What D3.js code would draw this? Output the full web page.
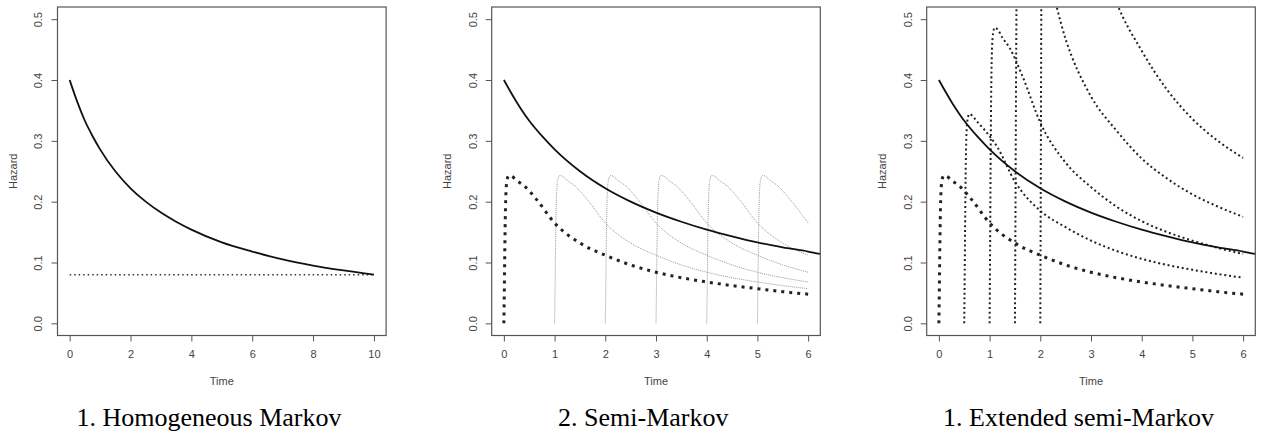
<!DOCTYPE html>
<html>
<head>
<meta charset="utf-8">
<script src="https://cdn.jsdelivr.net/npm/d3@7"></script>
<style>
  body { margin: 0; background: #fff; }
  svg { display: block; }
  .tick text { font-family: "Liberation Sans", Arial, sans-serif; font-size: 11px; fill: #444; }
  .lab { font-family: "Liberation Sans", Arial, sans-serif; font-size: 11px; fill: #444; }
  .cap { font-family: "Liberation Serif", "Times New Roman", serif; font-size: 26px; fill: #000; }
</style>
</head>
<body>
<div id="chart"></div>
<script>
//Datos
const hazardTicks = [0, 0.1, 0.2, 0.3, 0.4, 0.5];
const timeTicks10 = [0, 2, 4, 6, 8, 10];
const timeTicks6 = [0, 1, 2, 3, 4, 5, 6];
const captions = ['1. Homogeneous Markov', '2. Semi-Markov', '1. Extended semi-Markov'];

//Panel 1: hazard decreciente y hazard constante
const markovTime = [0, 0.25, 0.5, 0.75, 1, 1.5, 2, 2.5, 3, 3.5, 4, 5, 6, 7, 8, 9, 10];
const markovHazard = [0.4, 0.364, 0.333, 0.308, 0.286, 0.25, 0.222, 0.2, 0.182, 0.167, 0.154, 0.133, 0.118, 0.105, 0.095, 0.087, 0.08];
const constTime = [0, 10];
const constHazard = [0.08, 0.08];

//Paneles 2 y 3: hazard decreciente hasta 6.24
const solidTime = [0, 0.25, 0.5, 0.75, 1, 1.5, 2, 2.5, 3, 3.5, 4, 4.5, 5, 5.5, 6, 6.24];
const solidHazard = [0.4, 0.364, 0.333, 0.308, 0.286, 0.25, 0.222, 0.2, 0.182, 0.167, 0.154, 0.143, 0.133, 0.125, 0.118, 0.114];

//Hazard de base (tiempo desde la entrada)
const baseTime = [0, 0.01, 0.02, 0.035, 0.06, 0.1, 0.15, 0.25, 0.4, 0.65, 1, 1.5, 2, 2.5, 3, 3.5, 4, 4.5, 5, 5.5, 6];
const baseHazard = [0, 0.06, 0.13, 0.2, 0.235, 0.243, 0.242, 0.235, 0.226, 0.203, 0.165, 0.132, 0.112, 0.096, 0.084, 0.075, 0.068, 0.062, 0.057, 0.052, 0.048];

//Panel 2: copias grises que empiezan en cada entrada
const semiEntries = [1, 2, 3, 4, 5];

//Panel 3: curvas punteadas de las entradas 0.5, 1, 1.5 y 2
const extTimeA = [0.5, 0.51, 0.52, 0.535, 0.56, 0.6, 0.65, 0.75, 0.9, 1.15, 1.5, 2, 2.5, 3, 3.5, 4, 4.5, 5, 5.5, 6];
const extHazA = [0, 0.085, 0.184, 0.283, 0.332, 0.344, 0.342, 0.332, 0.318, 0.29, 0.233, 0.185, 0.158, 0.136, 0.119, 0.106, 0.096, 0.088, 0.081, 0.075];
const extTimeB = [1, 1.01, 1.02, 1.035, 1.06, 1.1, 1.15, 1.25, 1.4, 1.65, 2, 2.5, 3, 3.5, 4, 4.5, 5, 5.5, 6];
const extHazB = [0, 0.12, 0.26, 0.4, 0.47, 0.486, 0.484, 0.47, 0.452, 0.406, 0.33, 0.264, 0.224, 0.192, 0.168, 0.15, 0.136, 0.124, 0.114];
const extTimeC = [1.5, 1.51, 1.52, 1.535, 1.56, 1.6, 1.65, 1.75, 1.9, 2.15, 2.5, 3, 3.5, 4, 4.5, 5, 5.5, 6];
const extHazC = [0, 0.17, 0.368, 0.566, 0.665, 0.687, 0.684, 0.665, 0.639, 0.574, 0.467, 0.373, 0.317, 0.271, 0.238, 0.212, 0.192, 0.175];
const extTimeD = [2, 2.01, 2.02, 2.035, 2.06, 2.1, 2.15, 2.25, 2.4, 2.65, 3, 3.5, 4, 4.5, 5, 5.5, 6];
const extHazD = [0, 0.24, 0.52, 0.8, 0.94, 0.972, 0.968, 0.94, 0.904, 0.812, 0.66, 0.528, 0.448, 0.384, 0.336, 0.3, 0.272];

//Estilos de linea
const STYLE_SOLID = { stroke: '#111', width: 1.8, dash: null };
const STYLE_CONST = { stroke: '#333', width: 1.5, dash: '1.5,3' };
const STYLE_HEAVY = { stroke: '#222', width: 3, dash: '3,5' };
const STYLE_GREY = { stroke: '#999', width: 1, dash: '1,1' };
const STYLE_DOT = { stroke: '#222', width: 2, dash: '2,2.8' };

const W = 1266, H = 434;
const boxTop = 7, boxBottom = 335.5, boxWidth = 328.6;

let svg = d3.select('#chart').append('svg')
    .attr('width', W)
    .attr('height', H);

function zip(xs, ys) {
    return xs.map(function(x, i) { return [x, ys[i]]; });
}

function drawPanel(idx, left, xmax, xTicks, captionX, series) {
    let x = d3.scaleLinear()
        .domain([-0.04 * xmax, 1.04 * xmax])
        .range([left, left + boxWidth]);
    let y = d3.scaleLinear()
        .domain([-0.02, 0.52])
        .range([boxBottom, boxTop]);

    let g = svg.append('g');

    //Clip al recuadro
    g.append('clipPath')
        .attr('id', 'clip' + idx)
        .append('rect')
        .attr('x', left).attr('y', boxTop)
        .attr('width', boxWidth).attr('height', boxBottom - boxTop);

    let line = d3.line()
        .x(function(d) { return x(d[0]); })
        .y(function(d) { return y(d[1]); })
        .curve(d3.curveMonotoneX);

    let plot = g.append('g').attr('clip-path', 'url(#clip' + idx + ')');

    series.forEach(function(s) {
        plot.append('path')
            .attr('d', line(s.points))
            .attr('fill', 'none')
            .attr('stroke', s.style.stroke)
            .attr('stroke-width', s.style.width)
            .attr('stroke-dasharray', s.style.dash);
    });

    //Ejes
    let xAxis = g.append('g')
        .attr('transform', 'translate(0,' + boxBottom + ')')
        .call(d3.axisBottom(x).tickValues(xTicks).tickFormat(d3.format('d')).tickSize(6).tickPadding(8.5).tickSizeOuter(0));
    xAxis.select('.domain').remove();
    xAxis.selectAll('line').attr('stroke', '#555');

    let yAxis = g.append('g')
        .attr('transform', 'translate(' + left + ',0)')
        .call(d3.axisLeft(y).tickValues(hazardTicks).tickFormat(d3.format('.1f')).tickSize(6).tickSizeOuter(0));
    yAxis.select('.domain').remove();
    yAxis.selectAll('line').attr('stroke', '#555');
    yAxis.selectAll('text')
        .attr('x', null)
        .attr('dy', '0.35em')
        .attr('text-anchor', 'middle')
        .attr('transform', 'translate(-19,0) rotate(-90)');

    //Recuadro
    g.append('rect')
        .attr('x', left).attr('y', boxTop)
        .attr('width', boxWidth).attr('height', boxBottom - boxTop)
        .attr('fill', 'none')
        .attr('stroke', '#555')
        .attr('stroke-width', 1.2);

    //Titulos de ejes
    g.append('text')
        .attr('class', 'lab')
        .attr('x', left + boxWidth / 2)
        .attr('y', boxBottom + 45.5)
        .attr('dy', '0.35em')
        .attr('text-anchor', 'middle')
        .text('Time');

    g.append('text')
        .attr('class', 'lab')
        .attr('text-anchor', 'middle')
        .attr('dy', '0.35em')
        .attr('transform', 'translate(' + (left - 44.5) + ',' + y(0.25) + ') rotate(-90)')
        .text('Hazard');

    //Pie de figura
    g.append('text')
        .attr('class', 'cap')
        .attr('x', captionX)
        .attr('y', 426)
        .attr('text-anchor', 'middle')
        .text(captions[idx]);
}

//Panel 1
drawPanel(0, 57.5, 10, timeTicks10, 209, [
    { points: zip(constTime, constHazard), style: STYLE_CONST },
    { points: zip(markovTime, markovHazard), style: STYLE_SOLID }
]);

//Panel 2
let semiSeries = semiEntries.map(function(e) {
    let pts = zip(baseTime, baseHazard)
        .filter(function(p) { return p[0] + e <= 6; })
        .map(function(p) { return [p[0] + e, p[1]]; });
    return { points: pts, style: STYLE_GREY };
});
drawPanel(1, 491.7, 6, timeTicks6, 643.3, semiSeries.concat([
    { points: zip(baseTime, baseHazard), style: STYLE_HEAVY },
    { points: zip(solidTime, solidHazard), style: STYLE_SOLID }
]));

//Panel 3
drawPanel(2, 926.7, 6, timeTicks6, 1078.5, [
    { points: zip(extTimeA, extHazA), style: STYLE_DOT },
    { points: zip(extTimeB, extHazB), style: STYLE_DOT },
    { points: zip(extTimeC, extHazC), style: STYLE_DOT },
    { points: zip(extTimeD, extHazD), style: STYLE_DOT },
    { points: zip(baseTime, baseHazard), style: STYLE_HEAVY },
    { points: zip(solidTime, solidHazard), style: STYLE_SOLID }
]);
</script>
</body>
</html>
